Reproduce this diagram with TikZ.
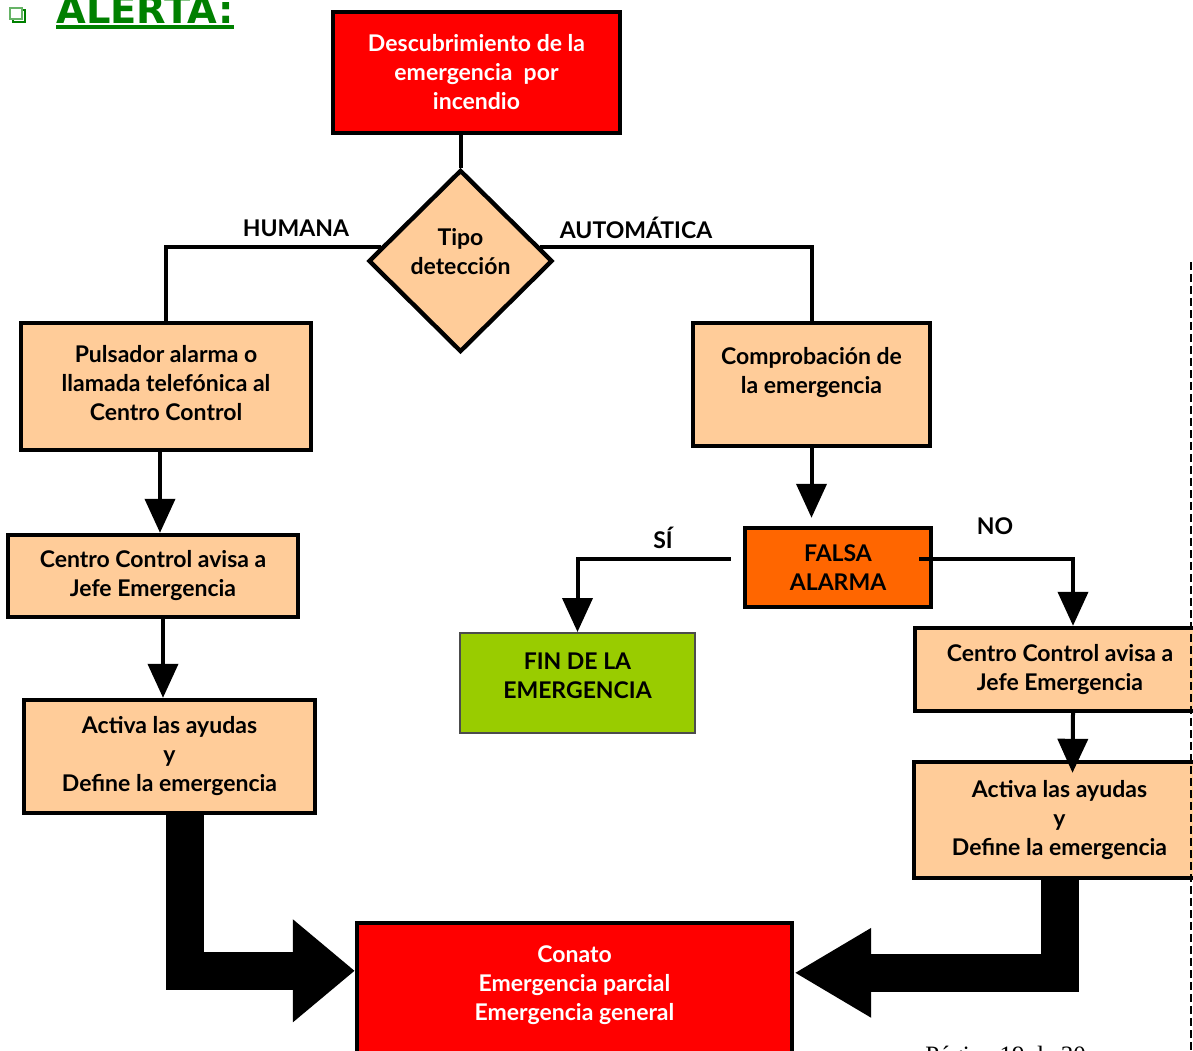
\documentclass[tikz,border=0pt]{standalone}
\usepackage{fontspec}
\setmainfont{Lato}
\newfontfamily\titlefont{DejaVu Sans}
\newfontfamily\pagefont{Liberation Serif}
\usetikzlibrary{calc, shapes.geometric, arrows.meta}

\definecolor{alarmRed}{HTML}{FF0000}
\definecolor{boxPeach}{HTML}{FFCC99}
\definecolor{falseOrange}{HTML}{FF6600}
\definecolor{endGreen}{HTML}{99CC00}
\definecolor{titleGreen}{HTML}{008000}

\tikzset{
  stepbox/.style={draw, line width=2.2pt, fill=boxPeach, inner sep=0pt, align=center,
    font=\bfseries\fontsize{11.5}{14.5}\selectfont},
  redbox/.style={stepbox, fill=alarmRed, text=white},
  plain/.style={line width=2pt},
  flow/.style={line width=2pt, -{Triangle[length=17pt,width=15pt]}},
  bigflow/.style={line width=19pt, -{Triangle[length=31pt,width=49.5pt]}},
  tag/.style={font=\bfseries\fontsize{11.5}{14}\selectfont},
}

\begin{document}
\begin{tikzpicture}[x=0.5pt, y=-0.5pt]
\useasboundingbox (0,0) rectangle (1193,1050);

% title
\draw[titleGreen, line width=1.2pt] (13,10) rectangle (25,22);
\draw[titleGreen!60, fill=white, line width=0.8pt] (10,8) rectangle (22,19);
\node[anchor=base west, inner sep=0pt, text=titleGreen,
  font=\titlefont\bfseries\fontsize{19.2}{19.2}\selectfont] (alerta) at (56,23) {ALERTA:};
\draw[titleGreen, line width=1.6pt] ($(alerta.base west)+(0,4)$) -- ($(alerta.base east)+(0,4)$);

% boxes
\node[redbox, minimum width=143.5pt, minimum height=60.5pt] (discovery) at (476.5,72.5)
  {Descubrimiento de la\\emergencia\ \ por\\incendio};
\node[stepbox, diamond, minimum width=92pt, minimum height=91pt] (detection) at (460.5,261)
  {Tipo\\detección\\[-5pt]\mbox{}};
\node[stepbox, minimum width=145pt, minimum height=63.5pt] (pulsador) at (166,386.5)
  {Pulsador alarma o\\llamada telefónica al\\Centro Control\\[-11pt]\mbox{}};
\node[stepbox, minimum width=118.5pt, minimum height=61.5pt] (check) at (811.5,384.5)
  {Comprobación de\\la emergencia\\\mbox{}};
\node[stepbox, minimum width=145pt, minimum height=41pt] (avisaL) at (153,576)
  {Centro Control avisa a\\Jefe Emergencia};
\node[stepbox, minimum width=145.5pt, minimum height=56.5pt] (activaL) at (169.5,756.5)
  {Activa las ayudas\\y\\Define la emergencia};
\node[stepbox, fill=falseOrange, minimum width=93pt, minimum height=39.5pt] (falsa) at (838,567.5)
  {FALSA\\ALARMA};
\node[stepbox, fill=endGreen, draw=black!70, line width=1pt, minimum width=117.5pt,
  minimum height=50pt] (fin) at (577.5,683) {FIN DE LA\\EMERGENCIA\\[-7pt]\mbox{}};
\node[stepbox, minimum width=145pt, minimum height=41.5pt] (avisaR) at (1060,669.5)
  {Centro Control avisa a\\Jefe Emergencia};
\node[stepbox, minimum width=145.5pt, minimum height=58pt] (activaR) at (1059.5,820)
  {Activa las ayudas\\y\\Define la emergencia};
\node[redbox, minimum width=217.5pt, minimum height=75pt] (conato) at (574.5,998)
  {Conato\\Emergencia parcial\\Emergencia general\\\mbox{}};

% connectors
\draw[plain] (detection.north |- discovery.south) -- (detection.north);
\draw[plain] (detection.170) -| (pulsador.north);
\draw[plain] (detection.10) -| (check.north);
\node[tag] (humana) at (296,228) {HUMANA};
\node[tag] (automatica) at (636,228) {AUTOMÁTICA};

\draw[flow] ($(pulsador.south)+(-6,0)$) -- ($(pulsador.south |- avisaL.north)+(-6,0)$);
\draw[flow] ($(avisaL.south)+(10,0)$) -- ($(avisaL.south |- activaL.north)+(10,0)$);
\draw[flow] (check.south) -- ($(check.south |- falsa.north)+(0,-8)$);
\draw[flow] ($(falsa.west)+(-12,-9)$) -| (fin.north);
\draw[flow] ($(falsa.east)+(-14,-9)$) -| ($(avisaR.north)+(13,0)$);
\draw[flow] ($(avisaR.south)+(13,0)$) -- ($(activaR.north)+(13,13)$);
\node[tag] (si) at (663,538) {SÍ};
\node[tag] (no) at (995,526) {NO};

% thick arrows into the level box
\coordinate (hitL) at ($(conato.north west)+(0,50)$);
\coordinate (hitR) at ($(conato.north east)+(0,52)$);
\draw[bigflow] ($(activaL.south)+(15.5,0)$) |- (hitL);
\draw[bigflow, -{Triangle[length=38.5pt,width=42pt]}] (activaR.south) |- (hitR);

% page edge
\draw[line width=0.6pt, dash pattern=on 4pt off 2pt] (1191,262) -- (1191,1050);
\node[anchor=base west, inner sep=0pt, font=\pagefont\fontsize{12.5}{12.5}\selectfont]
  (pagenum) at (925,1063.5) {Página 19 de 30};
\end{tikzpicture}
\end{document}
